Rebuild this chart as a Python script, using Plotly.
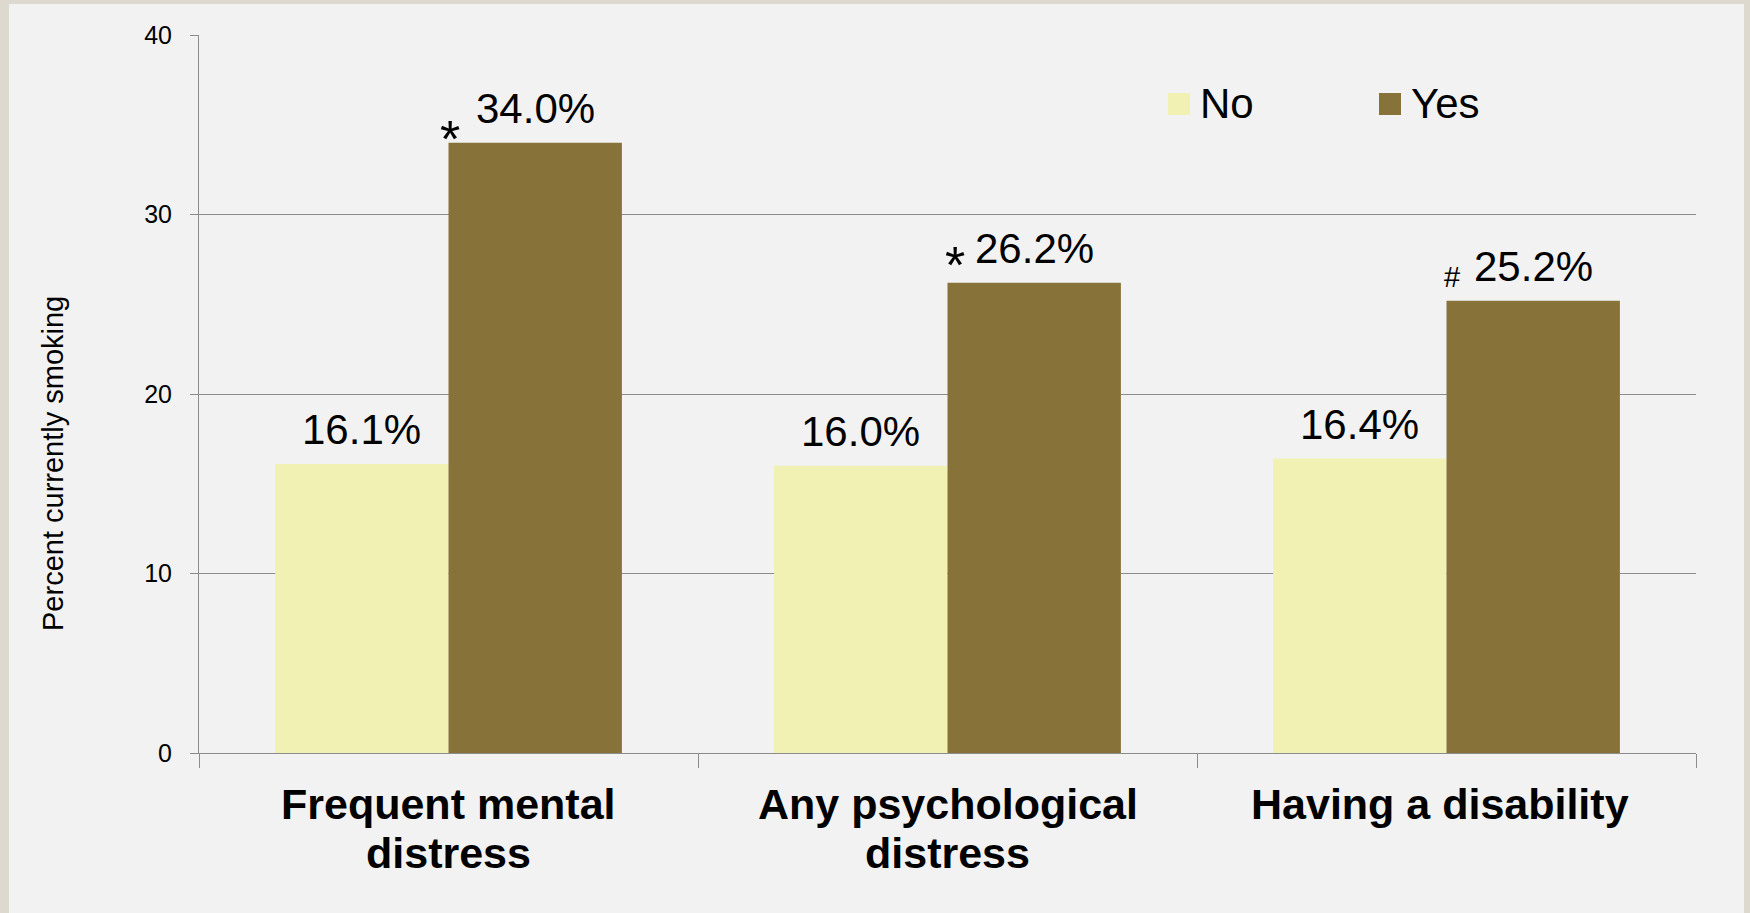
import plotly.graph_objects as go

# ---- data ----
categories = ["Frequent mental distress", "Any psychological distress", "Having a disability"]
cat_lines = [["Frequent mental", "distress"], ["Any psychological", "distress"], ["Having a disability"]]
no_values = [16.1, 16.0, 16.4]
yes_values = [34.0, 26.2, 25.2]
sig_marks = ["*", "*", "#"]
series_names = ["No", "Yes"]
y_ticks = [0, 10, 20, 30, 40]

# ---- style ----
C_NO = "#F1F1B4"
C_YES = "#87733A"
GRID = "#8C8C8C"
FONT = "Arial, Liberation Sans, sans-serif"
W, H = 1750, 913
L, R, T, B = 199, 54, 35, 160
BARGAP = 0.305
half = (1 - BARGAP) / 4  # bar centre offset in category units

def px(x):
    return (x - L) / (W - L - R)

def py(y):
    return (H - B - y) / (H - T - B)

fig = go.Figure()
fig.add_trace(go.Bar(x=categories, y=no_values, name=series_names[0],
                     marker=dict(color=C_NO, line=dict(width=0)), showlegend=False))
fig.add_trace(go.Bar(x=categories, y=yes_values, name=series_names[1],
                     marker=dict(color=C_YES, line=dict(width=0)), showlegend=False))

ann = []
# value labels
for i in range(len(categories)):
    for vals, off in ((no_values, -half), (yes_values, half)):
        ann.append(dict(x=i + off, y=vals[i], xref="x", yref="y", text=f"{vals[i]:.1f}%",
                        showarrow=False, yanchor="bottom", xanchor="center", yshift=9,
                        font=dict(family=FONT, size=42, color="black")))
# significance marks (placed at left edge of Yes bar)
mark_style = [dict(dx=1, dy=4, size=52), dict(dx=7, dy=18, size=52), dict(dx=5, dy=24, size=29)]
for i, m in enumerate(sig_marks):
    st = mark_style[i]
    ann.append(dict(x=i, y=yes_values[i], xref="x", yref="y", text=m, showarrow=False,
                    xanchor="center", yanchor="middle", xshift=st["dx"], yshift=st["dy"],
                    font=dict(family=FONT, size=st["size"], color="black")))
# category labels
cat_dx = [0, 0, -7]
for i, lines in enumerate(cat_lines):
    for j, line in enumerate(lines):
        ann.append(dict(x=i, y=0, xref="x", yref="paper", text=f"<b>{line}</b>", showarrow=False,
                        xanchor="center", yanchor="top", yshift=-25 - 49 * j, xshift=cat_dx[i],
                        font=dict(family=FONT, size=43, color="black")))
# y-axis title
ann.append(dict(x=px(53), y=py(464), xref="paper", yref="paper", text="Percent currently smoking",
                textangle=-90, showarrow=False, xanchor="center", yanchor="middle",
                font=dict(family=FONT, size=29, color="black")))
# legend
legend_x = [1168, 1379]
colors = [C_NO, C_YES]
shapes = [dict(type="rect", xref="paper", yref="paper", x0=px(9), x1=px(1744), y0=py(H + 20), y1=py(4),
               fillcolor="#F2F2F2", line=dict(width=0), layer="below")]
for k, name in enumerate(series_names):
    shapes.append(dict(type="rect", xref="paper", yref="paper", x0=px(legend_x[k]), x1=px(legend_x[k] + 22),
                       y0=py(115), y1=py(93), fillcolor=colors[k], line=dict(width=0)))
    ann.append(dict(x=px(legend_x[k] + 30), y=py(103), xref="paper", yref="paper", text=name,
                    showarrow=False, xanchor="left", yanchor="middle",
                    font=dict(family=FONT, size=42, color="black")))

fig.update_layout(
    width=W, height=H,
    margin=dict(l=L, r=R, t=T, b=B, pad=0),
    paper_bgcolor="#DDD9CE", plot_bgcolor="#F2F2F2",
    barmode="group", bargap=BARGAP, bargroupgap=0,
    showlegend=False,
    annotations=ann, shapes=shapes,
    font=dict(family=FONT, color="black"),
)
fig.update_xaxes(type="category", showticklabels=False, tickson="boundaries",
                 ticks="outside", ticklen=14, tickcolor=GRID, tickwidth=1,
                 showline=True, linecolor=GRID, linewidth=1, showgrid=False, zeroline=False)
fig.update_yaxes(range=[0, 40], tickvals=y_ticks, ticks="outside", ticklen=8, tickcolor=GRID,
                 tickwidth=1, ticklabelstandoff=13, tickfont=dict(family=FONT, size=25, color="black"),
                 showline=True, linecolor=GRID, linewidth=1, showgrid=True, gridcolor=GRID,
                 gridwidth=1, zeroline=False)

fig.write_html("out.html", config={"displayModeBar": False},
               post_script="document.body.style.margin='0px';")
